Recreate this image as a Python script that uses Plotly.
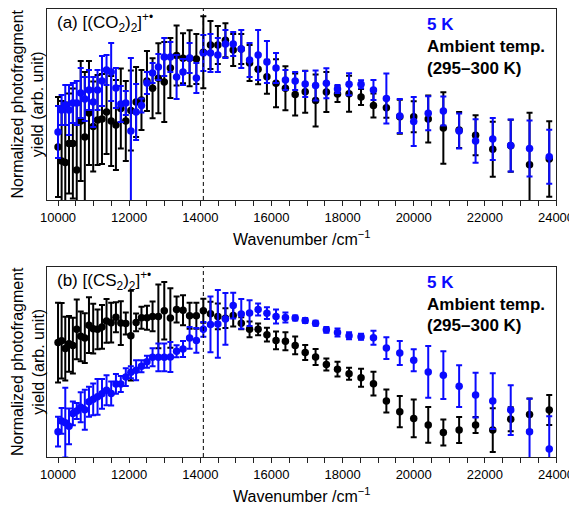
import plotly.graph_objects as go

# Wavenumbers (cm^-1), 1000 nm -> 420 nm in 10 nm steps
wavenumber = [10000, 10101, 10204, 10309, 10417, 10526, 10638, 10753, 10870, 10989,
              11111, 11236, 11364, 11494, 11628, 11765, 11905, 12048, 12195, 12346,
              12500, 12658, 12821, 12987, 13158, 13333, 13514, 13699, 13889, 14085,
              14286, 14493, 14706, 14925, 15152, 15385, 15625, 15873, 16129, 16393,
              16667, 16949, 17241, 17544, 17857, 18182, 18519, 18868, 19231, 19608,
              20000, 20408, 20833, 21277, 21739, 22222, 22727, 23256, 23810]

# (a) [(CO2)2]+  -- 5 K
co2_5k = [68, 90, 95, 90, 97, 97, 107, 101, 110, 98,
          110, 119, 130, 128, 112, 96, 97, 69, 88, 94.5,
          117, 127, 133, 143, 143, 123, 128, 142, 122, 147,
          147, 145, 156, 156, 151, 140, 145, 138, 132, 120,
          119, 116, 114.5, 116.7, 111, 115.7, 115.7, 110, 101.5, 84,
          78.5, 86.7, 89, 69, 59, 61, 54.5, 51.5, 43.3]
co2_5k_err = [26, 15, 20, 25, 20, 22, 25, 22, 20, 25,
              20, 25, 15, 29, 20, 18, 12, 73, 28, 7,
              11, 10, 13, 19, 15, 22, 13, 15, 15, 18,
              19, 17, 14, 12, 19, 17, 25, 21, 15, 10,
              9, 13, 15, 15, 4, 11, 4, 10, 25, 17,
              24.5, 17, 14.5, 17.5, 21.7, 21, 26, 28, 27]
# (a) ambient temperature
co2_amb = [53, 39, 37.5, 56.5, 56.5, 30, 79, 63, 87, 73.5,
           80, 81, 88, 79, 75, 91.5, 79, 89.5, 98, 100,
           119, 111.7, 121.7, 118, 132, 144.5, 141.7, 141.7, 141, 147.7,
           155, 155, 159.7, 150, 151, 137, 130.7, 123.3, 116.7, 111.7,
           105.5, 108.3, 99.5, 108, 106, 106.3, 103, 94.5, 92.3, 83.3,
           83.3, 81, 72, 70, 64.7, 50.7, 54.3, 35.3, 41]
co2_amb_err = [50, 60, 60, 50, 55, 65, 60, 65, 52, 45,
               45, 45, 42, 45, 45, 40, 40, 40, 35, 30,
               30, 30, 35, 40, 30, 30, 25, 28, 25, 36,
               24, 19, 17, 16, 15, 18, 15, 17, 24, 22,
               21, 21, 26, 20, 8, 18, 8, 12, 10, 17,
               15.5, 23.5, 35.7, 18, 20, 27.5, 26, 52, 37.7]

# (b) [(CS2)2]+  -- 5 K
cs2_5k = [25.5, 36.3, 34.5, 30.8, 43.8, 46.3, 50, 47.5, 55.5, 58,
          60.5, 63.5, 67.1, 63.8, 73.5, 73.3, 80.3, 85.2, 87.2, 91.3,
          95.8, 100.2, 100.2, 100.2, 100.5, 106.3, 108.5, 119.7, 117.2, 128.3,
          133.3, 133.8, 138.8, 152.2, 143.8, 144.7, 148.3, 144.6, 141.3, 140.3,
          139.8, 137.2, 134.5, 127.8, 125.1, 121.8, 120.8, 119.8, 109.5, 104.6,
          97.2, 85.5, 82.2, 71.2, 62.2, 56.2, 47.2, 25.5, 8]
cs2_5k_err = [15, 13, 35, 18, 12, 8, 15, 20, 15, 16,
              18, 15, 15, 12, 10, 8, 9, 6, 10, 6,
              6, 9, 14, 14, 15, 6, 8, 11, 12.5, 7.5,
              28, 34, 26, 13, 15, 13, 6, 6, 7, 5,
              2.5, 2.5, 2.5, 3, 4, 3.5, 3, 7, 11, 12,
              11, 26, 24, 21, 22.5, 28, 25, 33, 33]
# (b) ambient temperature
cs2_amb = [115, 116.8, 109, 113.8, 112, 128.3, 121.3, 119.6, 132.5, 129,
           128.3, 130.8, 136.8, 135, 140.5, 134.6, 134.2, 122, 135.3, 140,
           140, 141.3, 141.3, 147, 139.7, 148.3, 147.5, 142, 142, 147,
           144, 141.3, 139.6, 142.2, 134.5, 128.3, 128.3, 123, 117.2, 116.4,
           112.2, 105, 100.5, 93, 88.3, 83.7, 79.7, 73.7, 56.3, 45.5,
           38.8, 32.2, 24.6, 27.1, 32.1, 27.1, 38, 42.8, 47.2]
cs2_amb_err = [40, 38, 32, 28, 28, 30, 25, 25, 28, 25,
               20, 22, 22, 20, 15, 22, 11, 45, 9, 11,
               12, 15, 32, 29, 30, 13, 15, 13, 13, 12,
               12, 13, 10, 11, 6, 8, 6, 7, 9, 9,
               9, 7.5, 8, 6, 7.5, 6, 9, 12, 11.5, 15.7,
               19, 18, 13, 13, 8, 22, 12, 16, 15]

threshold = 14085
panel_labels = ["(a) [(CO<sub>2</sub>)<sub>2</sub>]<sup>+•</sup>",
                "(b) [(CS<sub>2</sub>)<sub>2</sub>]<sup>+•</sup>"]
legend_lines = ["5 K", "Ambient temp.", "(295–300 K)"]
x_title = "Wavenumber /cm<sup>−1</sup>"
y_title = "Normalized photofragment<br>yield (arb. unit)"

BLUE = "#0a0aff"
BLACK = "#000000"
FONT = "Liberation Sans, Arial, sans-serif"

fig = go.Figure()

def add_series(y, err, color, xa, ya):
    fig.add_trace(go.Scatter(
        x=wavenumber, y=y, mode="markers", xaxis=xa, yaxis=ya,
        marker=dict(color=color, size=7.5),
        error_y=dict(type="data", array=err, visible=True, color=color,
                     thickness=2, width=3),
        showlegend=False))

add_series(co2_amb, co2_amb_err, BLACK, "x", "y")
add_series(co2_5k, co2_5k_err, BLUE, "x", "y")
add_series(cs2_amb, cs2_amb_err, BLACK, "x2", "y2")
add_series(cs2_5k, cs2_5k_err, BLUE, "x2", "y2")

xcommon = dict(range=[9690, 24000], tickmode="linear", tick0=10000, dtick=2000,
               tickformat="d",
               ticks="outside", ticklen=5, tickwidth=1, tickcolor="#222",
               minor=dict(dtick=500, ticks="outside", ticklen=5, tickwidth=1, tickcolor="#222"),
               showline=True, linecolor="#222", linewidth=1.3, mirror=True,
               showgrid=False, zeroline=False,
               tickfont=dict(size=13, color="black", family=FONT))
ycommon = dict(range=[0, 191], showticklabels=False, ticks="", showgrid=False,
               zeroline=False, showline=True, linecolor="#222", linewidth=1.3, mirror=True)

# page body adds an 8 px margin, so the figure is 8 px smaller and shifted
fig.update_layout(
    width=569, height=497,
    margin=dict(l=39, r=21, t=1, b=48),
    paper_bgcolor="white", plot_bgcolor="white",
    font=dict(family=FONT, color="black"),
    xaxis=dict(domain=[0, 1], anchor="y", **xcommon),
    yaxis=dict(domain=[0.5737, 1], anchor="x", **ycommon),
    xaxis2=dict(domain=[0, 1], anchor="y2", **xcommon),
    yaxis2=dict(domain=[0, 0.4241], anchor="x2", **ycommon),
)

annotations = []
shapes = []
for i, (xr, yr) in enumerate([("x", "y"), ("x2", "y2")]):
    yd = yr + " domain"
    shapes.append(dict(type="line", xref=xr, yref=yd, x0=threshold, x1=threshold,
                       y0=0, y1=1, line=dict(color="black", width=1, dash="4px,3px")))
    annotations.append(dict(text=panel_labels[i], xref="paper", yref=yd,
                            x=0.0157, y=0.93, xanchor="left", yanchor="middle",
                            showarrow=False, font=dict(size=17)))
    for j, (txt, yy) in enumerate(zip(legend_lines, [0.917, 0.803, 0.69])):
        annotations.append(dict(text="<b>" + txt + "</b>", xref="paper", yref=yd,
                                x=0.7426, y=yy, xanchor="left", yanchor="middle",
                                showarrow=False,
                                font=dict(size=17, color=BLUE if j == 0 else "black")))
    annotations.append(dict(text=x_title, xref="paper", yref=yd, x=0.5, y=-0.2,
                            xanchor="center", yanchor="middle", showarrow=False,
                            font=dict(size=16)))
    annotations.append(dict(text=y_title, xref="paper", yref=yd, x=-0.0373, y=0.5,
                            xanchor="center", yanchor="middle", textangle=-90,
                            showarrow=False, font=dict(size=16)))

fig.update_layout(annotations=annotations, shapes=shapes)
fig.write_html("out.html")
